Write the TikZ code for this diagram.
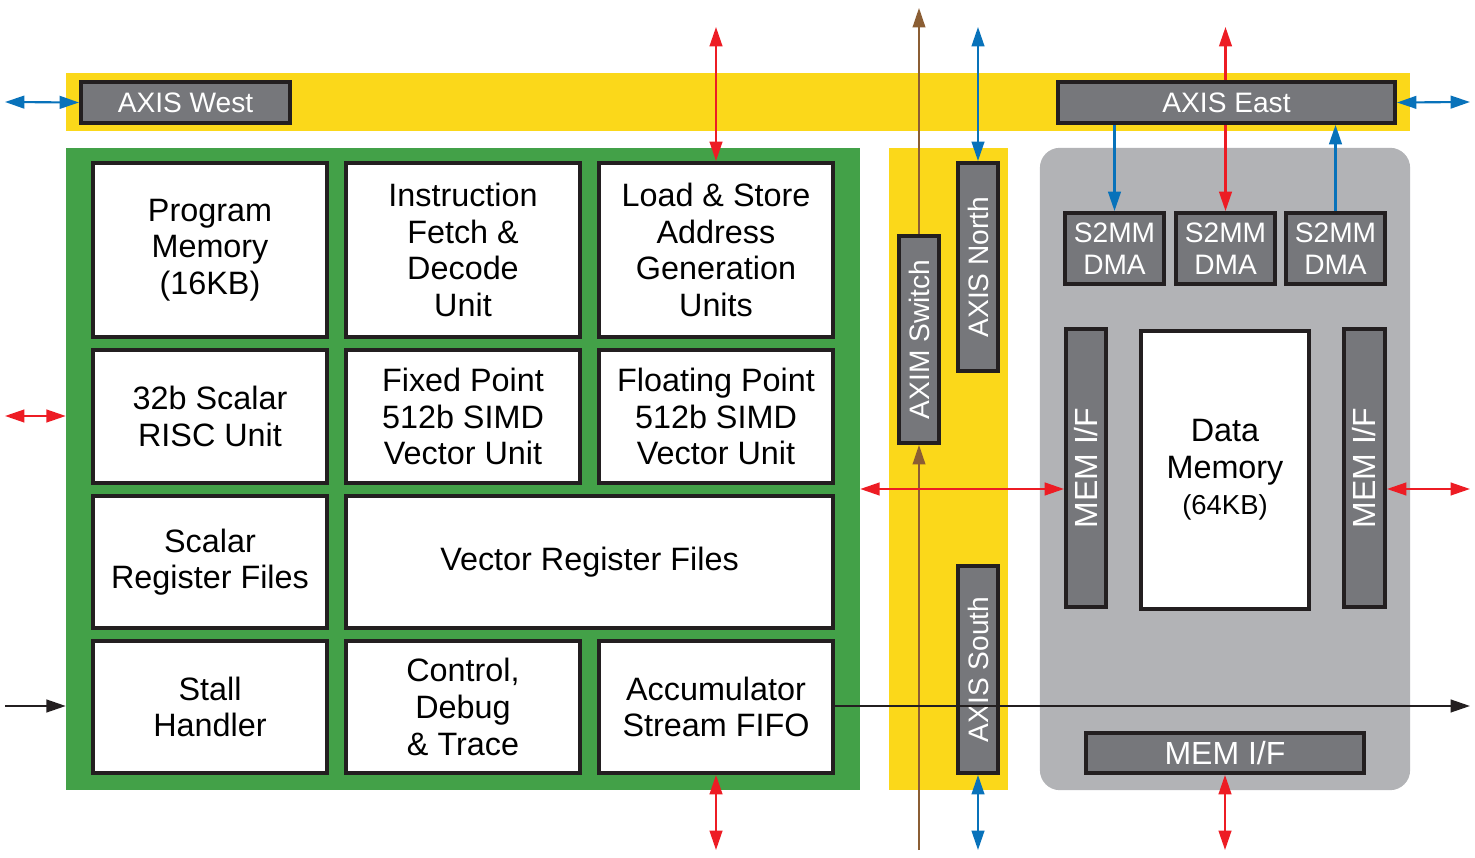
\documentclass[tikz,border=0pt]{standalone}
\usepackage{fontspec}
\setmainfont{Liberation Sans}
\usepackage{graphicx}
\usetikzlibrary{arrows.meta}
\definecolor{busYellow}{RGB}{251,216,26}
\definecolor{coreGreen}{RGB}{67,161,72}
\definecolor{memGray}{RGB}{178,179,182}
\definecolor{portGray}{RGB}{118,119,123}
\definecolor{edgeBlack}{RGB}{35,31,32}
\definecolor{sigRed}{RGB}{237,28,36}
\definecolor{sigBlue}{RGB}{8,114,186}
\definecolor{sigBrown}{RGB}{139,94,52}
\begin{document}
\begin{tikzpicture}[x=0.01cm,y=-0.01cm]
    \tikzstyle{area}=[inner sep=0pt,outer sep=0pt]
    \tikzstyle{unit}=[draw=edgeBlack,line width=1.1pt,fill=white,align=center,inner sep=0pt,
                      font=\fontsize{9.2}{10.4}\selectfont]
    \tikzstyle{port}=[unit,fill=portGray,text=white,font=\fontsize{8}{9.4}\selectfont]
    \tikzstyle{mif}=[port,font=\fontsize{9.1}{10.4}\selectfont]
    \tikzstyle{dma}=[port,minimum width=0.99cm,minimum height=0.71cm,font=\fontsize{8}{9.1}\selectfont]
    \tikzstyle{link}=[line width=0.6pt,{Triangle[length=5.5pt,width=3.6pt]}-{Triangle[length=5.5pt,width=3.6pt]}]
    \tikzstyle{feed}=[line width=0.6pt,-{Triangle[length=5.5pt,width=3.6pt]}]
    \tikzstyle{back}=[line width=0.6pt,{Triangle[length=5.5pt,width=3.6pt]}-]
    \useasboundingbox (0,0) rectangle (1475,858);

    % backgrounds
    \node[area,fill=busYellow,minimum width=13.44cm,minimum height=0.58cm] (hbus) at (738,102) {};
    \node[area,fill=coreGreen,minimum width=7.94cm,minimum height=6.42cm] (core) at (463,469) {};
    \node[area,fill=busYellow,minimum width=1.19cm,minimum height=6.42cm] (vbus) at (948.5,469) {};
    \node[area,fill=memGray,rounded corners=0.2cm,minimum width=3.70cm,minimum height=6.42cm] (mem) at (1225,469) {};

    % core units
    \node[unit,minimum width=2.34cm,minimum height=1.74cm] (pm)   at (210,250) {Program\\Memory\\(16KB)};
    \node[unit,minimum width=2.34cm,minimum height=1.74cm] (ifd)  at (463,250) {Instruction\\Fetch \&\\Decode\\Unit};
    \node[unit,minimum width=2.34cm,minimum height=1.74cm] (ls)   at (716,250) {Load \& Store\\Address\\Generation\\Units};
    \node[unit,minimum width=2.34cm,minimum height=1.33cm] (risc) at (210,416.5) {32b Scalar\\RISC Unit};
    \node[unit,minimum width=2.34cm,minimum height=1.33cm] (fix)  at (463,416.5) {Fixed Point\\512b SIMD\\Vector Unit};
    \node[unit,minimum width=2.34cm,minimum height=1.33cm] (flt)  at (716,416.5) {Floating Point\\512b SIMD\\Vector Unit};
    \node[unit,minimum width=2.34cm,minimum height=1.32cm] (srf)  at (210,562) {Scalar\\Register Files};
    \node[unit,minimum width=4.87cm,minimum height=1.32cm] (vrf)  at (589.5,562) {Vector Register Files};
    \node[unit,minimum width=2.34cm,minimum height=1.32cm] (stall) at (210,707) {Stall\\Handler};
    \node[unit,minimum width=2.34cm,minimum height=1.32cm] (dbg)  at (463,707) {Control,\\Debug\\\& Trace};
    \node[unit,minimum width=2.34cm,minimum height=1.32cm] (acc)  at (716,707) {Accumulator\\Stream FIFO};

    % stream and switch ports
    \node[port,minimum width=2.09cm,minimum height=0.41cm] (west)  at (185.5,102.5) {AXIS West};
    \node[port,minimum width=3.37cm,minimum height=0.41cm] (east)  at (1226.5,102.5) {AXIS East};
    \node[port,minimum width=0.40cm,minimum height=2.07cm] (axim)  at (919,339.5) {\rotatebox{90}{AXIM Switch}};
    \node[port,minimum width=0.40cm,minimum height=2.08cm] (north) at (978,267) {\rotatebox{90}{AXIS North}};
    \node[port,minimum width=0.40cm,minimum height=2.07cm] (south) at (978,669.5) {\rotatebox{90}{AXIS South}};

    % memory module
    \node[dma] (dmaA) at (1114.5,248.5) {S2MM\\DMA};
    \node[dma] (dmaB) at (1225.5,248.5) {S2MM\\DMA};
    \node[dma] (dmaC) at (1335.5,248.5) {S2MM\\DMA};
    \node[mif,minimum width=0.40cm,minimum height=2.78cm] (mifW) at (1086,468) {\rotatebox{90}{MEM I/F}};
    \node[unit,minimum width=1.68cm,minimum height=2.78cm] (dmem) at (1225,470) {Data\\Memory\\{\fontsize{7.8}{10.6}\selectfont(64KB)}};
    \node[mif,minimum width=0.41cm,minimum height=2.78cm] (mifE) at (1364.5,468) {\rotatebox{90}{MEM I/F}};
    \node[mif,minimum width=2.78cm,minimum height=0.40cm] (mifS) at (1225,753) {MEM I/F};

    % free ends
    \coordinate (wEnd)  at (5,102);
    \coordinate (eEnd)  at (1470,102);
    \coordinate (rW)    at (5,416);
    \coordinate (kW)    at (5,706);
    \coordinate (kE)    at (1470,706);
    \coordinate (rE)    at (1470,489);
    \coordinate (rTop)  at (716,27);
    \coordinate (rBot)  at (716,850);
    \coordinate (brTop) at (919,8);
    \coordinate (brBot) at (919,850);
    \coordinate (bTop)  at (978,27);
    \coordinate (bBot)  at (978,850);
    \coordinate (eTop)  at (1225.5,27);
    \coordinate (mBot)  at (1225,850);

    % connectors
    \draw[link,sigBlue] (wEnd) -- (west.west);
    \draw[link,sigBlue] (east.east) -- (eEnd);
    \draw[link,sigRed] (rW) -- (rW -| core.west);
    \draw[feed,edgeBlack] (kW) -- (kW -| core.west);
    \draw[link,sigRed] (rTop) -- (ls.north);
    \draw[link,sigRed] (acc.south) -- (rBot);
    \draw[feed,sigBrown,line width=0.45pt] (brBot) -- (axim.south);
    \draw[feed,sigBrown,line width=0.45pt] (axim.north) -- (brTop);
    \draw[link,sigBlue] (bTop) -- (north.north);
    \draw[link,sigBlue] (south.south) -- (bBot);
    \draw[back,sigRed] (eTop) -- (east.north -| eTop);
    \draw[feed,sigRed] (east.south -| dmaB) -- (dmaB.north);
    \draw[feed,sigBlue] (east.south -| dmaA) -- (dmaA.north);
    \draw[feed,sigBlue] (dmaC.north) -- (east.south -| dmaC);
    \draw[link,sigRed] (core.east |- rE) -- (mifW.west |- rE);
    \draw[link,sigRed] (mifE.east |- rE) -- (rE);
    \draw[feed,edgeBlack] (acc.east |- kE) -- (kE);
    \draw[link,sigRed] (mifS.south) -- (mBot);
\end{tikzpicture}
\end{document}
